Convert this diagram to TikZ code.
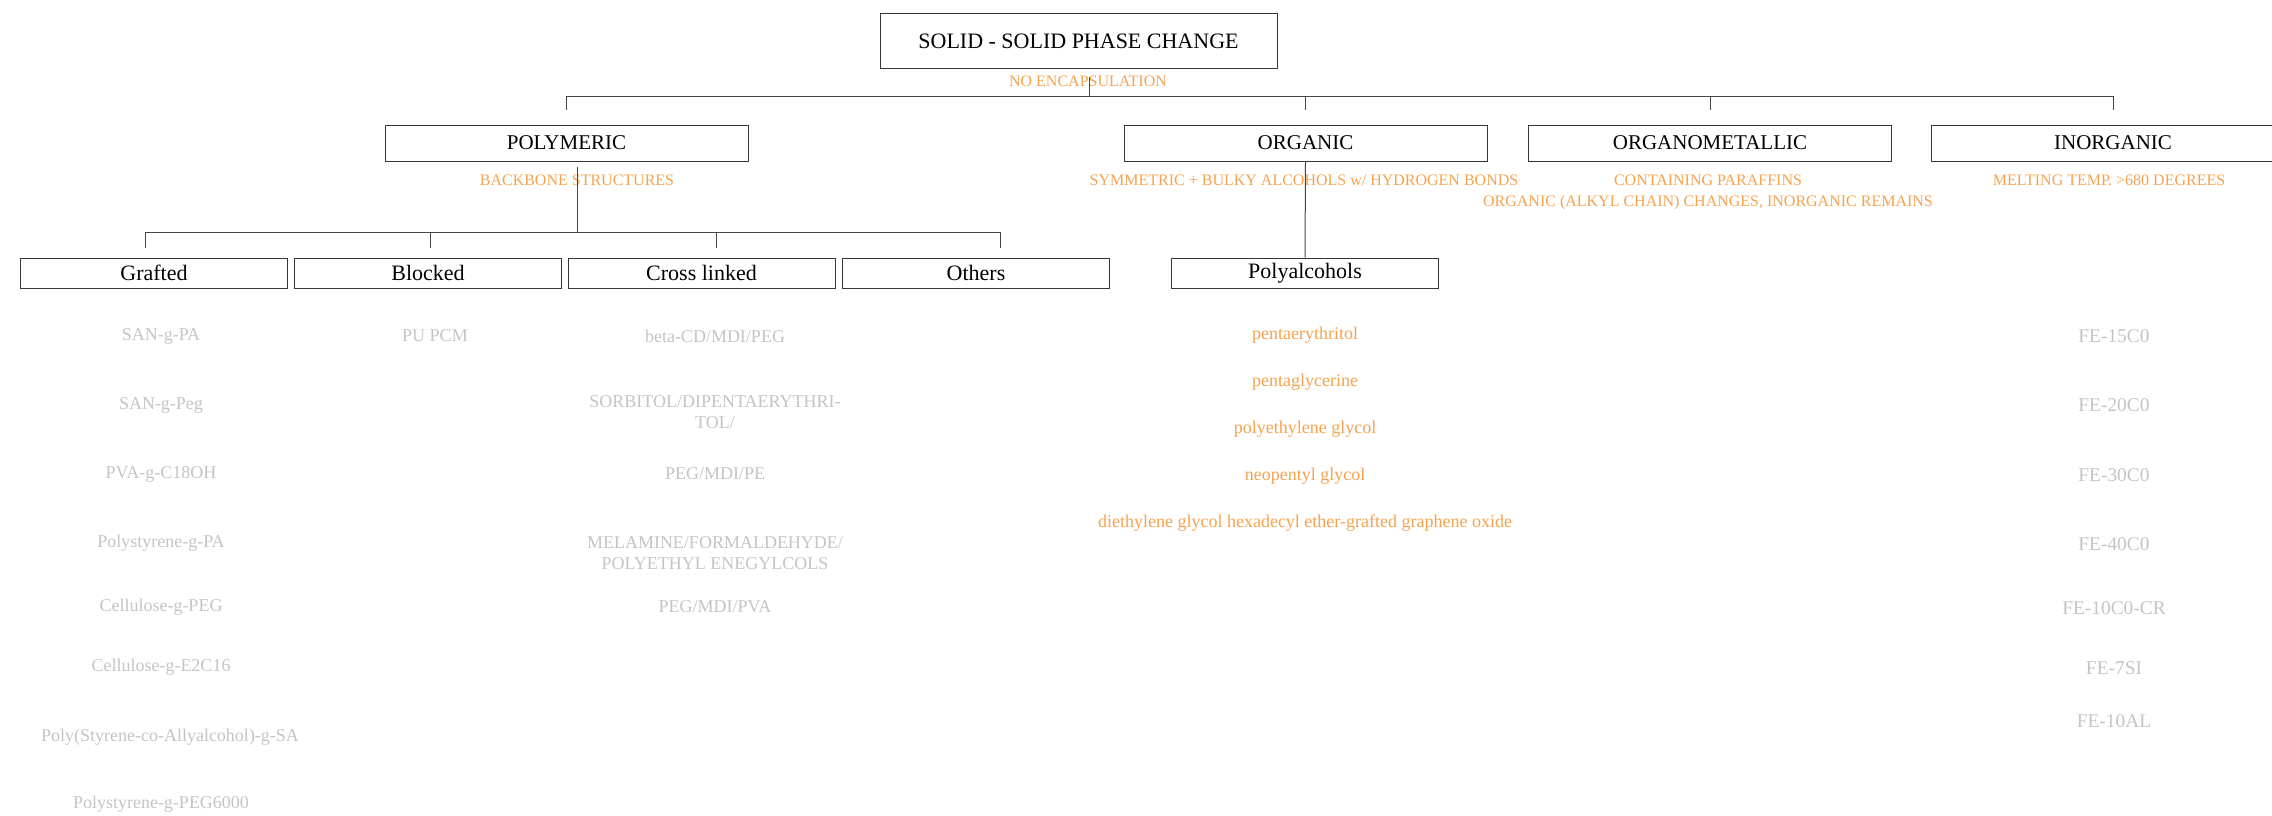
\documentclass[tikz,border=0pt]{standalone}
\usepackage{fontspec}
\setmainfont{Liberation Serif}
\usepackage{tikz}
\usetikzlibrary{positioning,calc}
\definecolor{boxline}{RGB}{55,55,55}
\definecolor{connline}{RGB}{70,70,70}
\definecolor{noteorange}{RGB}{246,162,78}
\definecolor{itemgray}{RGB}{196,196,196}
\newcommand{\itemsize}{\fontsize{9}{10.5}\selectfont}

\begin{document}
\begin{tikzpicture}[
  x=0.5pt,y=-0.5pt,
  topbox/.style={draw=boxline,line width=0.5pt,inner sep=0pt,
    minimum width=198.5pt,minimum height=27.5pt,font=\fontsize{11}{13}\selectfont},
  catbox/.style={draw=boxline,line width=0.5pt,inner sep=0pt,
    minimum width=181.5pt,minimum height=18pt,font=\fontsize{10.5}{12}\selectfont},
  subbox/.style={draw=boxline,line width=0.5pt,inner sep=0pt,
    minimum width=133.5pt,minimum height=15pt,font=\fontsize{11}{13}\selectfont},
  note/.style={inner sep=0pt,text=noteorange,font=\fontsize{8}{9.5}\selectfont},
  grayitem/.style={inner sep=0pt,text=itemgray,align=center,font=\itemsize},
  orgitem/.style={inner sep=0pt,text=noteorange,font=\itemsize},
  feitem/.style={inner sep=0pt,text=itemgray,font=\fontsize{9.7}{11}\selectfont},
  conn/.style={draw=connline,line width=0.5pt}
]
\useasboundingbox (0,0) rectangle (2272,815);

% main categories
\node[topbox] (title) at (1078.5,41) {SOLID - SOLID PHASE CHANGE};
\node[note] (titlenote) at (1088,81) {NO ENCAPSULATION};

\node[catbox] (poly) at (566.5,143) {POLYMERIC};
\node[catbox] (org) at (1305.5,143) {ORGANIC};
\node[catbox] (orgmet) at (1710,143) {ORGANOMETALLIC};
\node[catbox] (inorg) at (2113,143) {INORGANIC};

\node[note] (polynote) at (577,180) {BACKBONE STRUCTURES};
\node[note] (orgnote) at (1304,180) {SYMMETRIC + BULKY ALCOHOLS w/ HYDROGEN BONDS};
\node[note] (orgmetnote) at (1708,180) {CONTAINING PARAFFINS};
\node[note] (orgmetnoteb) at (1708,203) {ORGANIC (ALKYL CHAIN) CHANGES, INORGANIC REMAINS};
\node[note] (inorgnote) at (2109,180) {MELTING TEMP. >680 DEGREES};

% polymeric structures
\node[subbox] (grafted) at (154,273) {Grafted};
\node[subbox] (blocked) at (428,273) {Blocked};
\node[subbox] (crossl) at (701.5,273) {Cross linked};
\node[subbox] (others) at (976,273) {Others};
\node[subbox] (polyalc) at (1305,273) {Polyalcohols};

% tree lines
\coordinate (topbus) at (1089,96);
\draw[conn,shorten <=4pt] (title.south -| topbus) -- (topbus);
\draw[conn] (poly.north |- topbus) -- (inorg.north |- topbus);
\foreach \n in {poly,org,orgmet,inorg}
  \draw[conn,shorten >=7.5pt] (\n.north |- topbus) -- (\n.north);

\coordinate (polybus) at (577,232);
\coordinate (pb1) at (145,232);
\coordinate (pb2) at (430,232);
\coordinate (pb3) at (716,232);
\coordinate (pb4) at (1000,232);
\draw[conn,shorten <=2.5pt] (poly.south -| polybus) -- (polybus);
\draw[conn] (pb1) -- (pb4);
\draw[conn,shorten >=5pt] (pb1) -- (pb1 |- grafted.north);
\draw[conn,shorten >=5pt] (pb2) -- (pb2 |- blocked.north);
\draw[conn,shorten >=5pt] (pb3) -- (pb3 |- crossl.north);
\draw[conn,shorten >=5pt] (pb4) -- (pb4 |- others.north);
\draw[conn] (org.south) -- (polyalc.north);

% grafted
\node[grayitem] (g1) at (161,336) {SAN-g-PA};
\node[grayitem] (g2) at (161,405) {SAN-g-Peg};
\node[grayitem] (g3) at (161,474) {PVA-g-C18OH};
\node[grayitem] (g4) at (161,543) {Polystyrene-g-PA};
\node[grayitem] (g5) at (161,607) {Cellulose-g-PEG};
\node[grayitem] (g6) at (161,667) {Cellulose-g-E2C16};
\node[grayitem] (g7) at (170,737) {Poly(Styrene-co-Allyalcohol)-g-SA};
\node[grayitem] (g8) at (161,804) {Polystyrene-g-PEG6000};

% blocked
\node[grayitem] (b1) at (435,336) {PU PCM};

% cross linked
\node[grayitem] (c1) at (715,336) {beta-CD/MDI/PEG};
\node[grayitem] (c2) at (715,412) {SORBITOL/DIPENTAERYTHRI-\\TOL/};
\node[grayitem] (c3) at (715,474) {PEG/MDI/PE};
\node[grayitem] (c4) at (715,553) {MELAMINE/FORMALDEHYDE/\\POLYETHYL ENEGYLCOLS};
\node[grayitem] (c5) at (715,607) {PEG/MDI/PVA};

% polyalcohols
\node[orgitem] (p1) at (1305,335) {pentaerythritol};
\node[orgitem] (p2) at (1305,382) {pentaglycerine};
\node[orgitem] (p3) at (1305,429) {polyethylene glycol};
\node[orgitem] (p4) at (1305,476) {neopentyl glycol};
\node[orgitem] (p5) at (1305,523) {diethylene glycol hexadecyl ether-grafted graphene oxide};

% inorganic
\node[feitem] (i1) at (2114,336) {FE-15C0};
\node[feitem] (i2) at (2114,405) {FE-20C0};
\node[feitem] (i3) at (2114,475) {FE-30C0};
\node[feitem] (i4) at (2114,544) {FE-40C0};
\node[feitem] (i5) at (2114,608) {FE-10C0-CR};
\node[feitem] (i6) at (2114,668) {FE-7SI};
\node[feitem] (i7) at (2114,721) {FE-10AL};
\end{tikzpicture}
\end{document}
